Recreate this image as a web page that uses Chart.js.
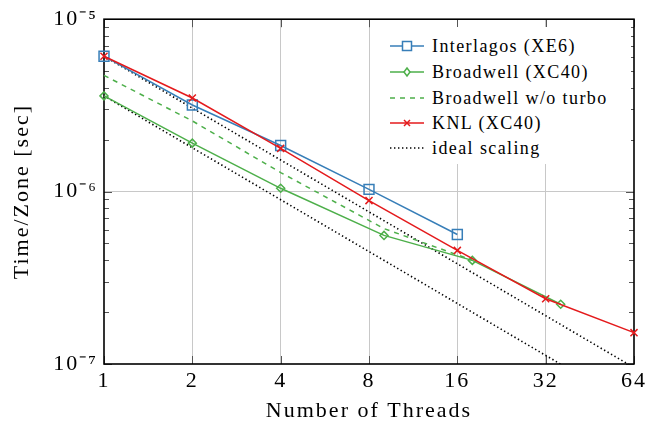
<!DOCTYPE html>
<html><head><meta charset="utf-8">
<script src="https://cdn.jsdelivr.net/npm/chart.js@4.4.1/dist/chart.umd.min.js"></script>
<style>
html,body{margin:0;padding:0;background:#fff;}
#wrap{position:relative;width:651px;height:428px;overflow:hidden;}
#c{position:absolute;left:0;top:0;}
#legend{position:absolute;left:383px;top:27px;width:248px;height:137px;background:#fff;font-family:"Liberation Serif",serif;font-size:18px;color:#000;}
.row{position:absolute;left:0;height:24px;display:flex;align-items:center;white-space:nowrap;letter-spacing:1.4px;}
.row svg{margin-left:7px;margin-right:8px;flex:none;}
</style></head><body>
<div id="wrap"><canvas id="c" width="651" height="428"></canvas><div id="legend"></div></div>
<script>
// ---- data ----
const threadsInterlagos = [1, 2, 4, 8, 16];
const timeInterlagos = [6.1e-6, 3.18e-6, 1.85e-6, 1.03e-6, 5.64e-7];

const threadsBroadwell = [1, 2, 4, 9, 18, 36];
const timeBroadwell = [3.59e-6, 1.91e-6, 1.045e-6, 5.57e-7, 3.99e-7, 2.22e-7];

const threadsBroadwellNoTurbo = [1, 2, 4, 9, 18];
const timeBroadwellNoTurbo = [4.72e-6, 2.57e-6, 1.29e-6, 6.1e-7, 4.0e-7];

const threadsKNL = [1, 2, 4, 8, 16, 32, 64];
const timeKNL = [6.1e-6, 3.49e-6, 1.78e-6, 8.87e-7, 4.56e-7, 2.39e-7, 1.52e-7];

const threadsIdeal = [1, 64];
const timeIdealA = [6.1e-6, 9.53e-8];
const timeIdealB = [3.59e-6, 5.61e-8];

const seriesLabels = ['Interlagos (XE6)', 'Broadwell (XC40)', 'Broadwell w/o turbo', 'KNL (XC40)', 'ideal scaling'];

const xTickValues = [1, 2, 4, 8, 16, 32, 64];
const xTickLabels = ['1', '2', '4', '8', '16', '32', '64'];
const yMajorValues = [1e-7, 1e-6, 1e-5];
const yTickLabels = ['10\u207B\u2077', '10\u207B\u2076', '10\u207B\u2075'];
const yMinorMultipliers = [2, 3, 4, 5, 6, 7, 8, 9];

// ---- styles ----
const BLUE = '#377eb8', GREEN = '#4daf4a', RED = '#e41a1c';
const FONT = '"Liberation Serif", "Times New Roman", serif';

const pts = (xs, ys) => xs.map((x, i) => ({x: x, y: ys[i]}));

// y ticks: majors and minors (axis positions only)
const yTicks = [];
yMajorValues.forEach((m, k) => {
  yTicks.push({value: m, major: true, label: yTickLabels[k]});
  if (k < yMajorValues.length - 1) yMinorMultipliers.forEach(f => yTicks.push({value: m * f, major: false, label: ''}));
});
yTicks.sort((a, b) => a.value - b.value);

const spacingPlugin = {
  id: 'spacing',
  beforeLayout(chart) { chart.ctx.letterSpacing = '2px'; },
  beforeDraw(chart) { chart.ctx.letterSpacing = '2px'; }
};

const framePlugin = {
  id: 'frame',
  beforeDatasetsDraw(chart) {
    const {ctx, chartArea: a, scales} = chart;
    ctx.save();
    ctx.strokeStyle = '#555';
    ctx.lineWidth = 1;
    // x ticks, bottom and top, inward
    xTickValues.forEach(v => {
      const px = Math.round(scales.x.getPixelForValue(v)) + 0.5;
      ctx.beginPath();
      ctx.moveTo(px, a.bottom); ctx.lineTo(px, a.bottom - 8);
      ctx.moveTo(px, a.top); ctx.lineTo(px, a.top + 8);
      ctx.stroke();
    });
    // y ticks, left and right, inward
    yTicks.forEach(t => {
      const py = Math.round(scales.y.getPixelForValue(t.value)) + 0.5;
      const len = t.major ? 8 : 5;
      ctx.beginPath();
      ctx.moveTo(a.left, py); ctx.lineTo(a.left + len, py);
      ctx.moveTo(a.right, py); ctx.lineTo(a.right - len, py);
      ctx.stroke();
    });
    ctx.strokeStyle = '#000';
    ctx.lineWidth = 1.6;
    ctx.strokeRect(a.left, a.top, a.right - a.left, a.bottom - a.top);
    ctx.restore();
  }
};

const chart = new Chart(document.getElementById('c'), {
  type: 'line',
  data: {
    datasets: [
      {label: seriesLabels[3], data: pts(threadsKNL, timeKNL), order: 0,
       borderColor: RED, backgroundColor: RED, borderWidth: 1.5,
       pointStyle: 'crossRot', pointRadius: 5, pointBorderWidth: 1.5, pointBorderColor: RED, clip: false},
      {label: seriesLabels[1], data: pts(threadsBroadwell, timeBroadwell), order: 1,
       borderColor: GREEN, backgroundColor: 'rgba(255,255,255,0)', borderWidth: 1.5,
       pointStyle: 'rectRot', pointRadius: 4, pointBorderWidth: 1.5, pointBorderColor: GREEN,
       pointBackgroundColor: 'rgba(255,255,255,0)', clip: false},
      {label: seriesLabels[0], data: pts(threadsInterlagos, timeInterlagos), order: 2,
       borderColor: BLUE, backgroundColor: 'rgba(255,255,255,0)', borderWidth: 1.5,
       pointStyle: 'rect', pointRadius: 7, pointBorderWidth: 1.5, pointBorderColor: BLUE,
       pointBackgroundColor: 'rgba(255,255,255,0)', clip: false},
      {label: seriesLabels[2], data: pts(threadsBroadwellNoTurbo, timeBroadwellNoTurbo), order: 3,
       borderColor: GREEN, borderWidth: 1.5, borderDash: [5, 5], pointRadius: 0, clip: false},
      {label: seriesLabels[4], data: pts(threadsIdeal, timeIdealA), order: 4,
       borderColor: '#000', borderWidth: 1.6, borderDash: [1.4, 2.6], pointRadius: 0},
      {label: seriesLabels[4] + ' ', data: pts(threadsIdeal, timeIdealB), order: 5,
       borderColor: '#000', borderWidth: 1.6, borderDash: [1.4, 2.6], pointRadius: 0}
    ]
  },
  options: {
    responsive: false,
    animation: false,
    devicePixelRatio: 1,
    layout: {padding: {left: 0, right: 14, top: 18, bottom: 0}},
    elements: {line: {tension: 0, fill: false}},
    plugins: {legend: {display: false}, tooltip: {enabled: false}},
    scales: {
      x: {
        type: 'logarithmic', min: 1, max: 64,
        afterBuildTicks: s => { s.ticks = xTickValues.map(v => ({value: v})); },
        afterFit: s => { s.height = 64; },
        ticks: {callback: (v, i) => xTickLabels[i], autoSkip: false, maxRotation: 0,
                color: '#000', padding: 4, font: {family: FONT, size: 22}},
        grid: {drawTicks: false, lineWidth: 1,
               color: c => (c.index === 0 || c.index === xTickValues.length - 1) ? 'rgba(0,0,0,0)' : '#c8c8c8'},
        border: {display: false},
        title: {display: true, text: 'Number of Threads', color: '#000',
                font: {family: FONT, size: 22}, padding: {top: 0, bottom: 4}}
      },
      y: {
        type: 'logarithmic', min: 1e-7, max: 1e-5,
        afterBuildTicks: s => { s.ticks = yTicks.map(t => ({value: t.value})); },
        afterFit: s => { s.width = 104; },
        ticks: {callback: (v, i) => yTicks[i].label, autoSkip: false,
                color: '#000', padding: 6, font: {family: FONT, size: 22}},
        grid: {drawTicks: false, lineWidth: 1,
               color: c => (c.index !== undefined && yTicks[c.index] && yTicks[c.index].value === 1e-6) ? '#c8c8c8' : 'rgba(0,0,0,0)'},
        border: {display: false},
        title: {display: true, text: 'Time/Zone [sec]', color: '#000',
                font: {family: FONT, size: 22}, padding: {top: 9, bottom: 0}}
      }
    }
  },
  plugins: [spacingPlugin, framePlugin]
});

// ---- HTML legend built from the datasets ----
const legendSpec = [
  {label: seriesLabels[0], color: BLUE, dash: '', marker: 'square'},
  {label: seriesLabels[1], color: GREEN, dash: '', marker: 'diamond'},
  {label: seriesLabels[2], color: GREEN, dash: '5,5', marker: ''},
  {label: seriesLabels[3], color: RED, dash: '', marker: 'cross'},
  {label: seriesLabels[4], color: '#000', dash: '1.4,2.6', marker: ''}
];
const rowCenters = [19, 45, 71, 96, 121];
const leg = document.getElementById('legend');
legendSpec.forEach((s, i) => {
  let m = '';
  if (s.marker === 'square') m = `<rect x="12.5" y="2.5" width="9" height="9" fill="#fff" stroke="${s.color}" stroke-width="1.5"/>`;
  if (s.marker === 'diamond') m = `<path d="M17 3 L20 7 L17 11 L14 7 Z" fill="#fff" stroke="${s.color}" stroke-width="1.5"/>`;
  if (s.marker === 'cross') m = `<path d="M14 4 L20 10 M20 4 L14 10" stroke="${s.color}" stroke-width="1.5"/>`;
  const row = document.createElement('div');
  row.className = 'row';
  row.style.top = (rowCenters[i] - 12) + 'px';
  row.innerHTML = `<svg width="34" height="14" viewBox="0 0 34 14"><line x1="0" y1="7" x2="34" y2="7" stroke="${s.color}" stroke-width="1.5" ${s.dash ? `stroke-dasharray="${s.dash}"` : ''}/>${m}</svg><span>${s.label}</span>`;
  leg.appendChild(row);
});
</script>
</body></html>
